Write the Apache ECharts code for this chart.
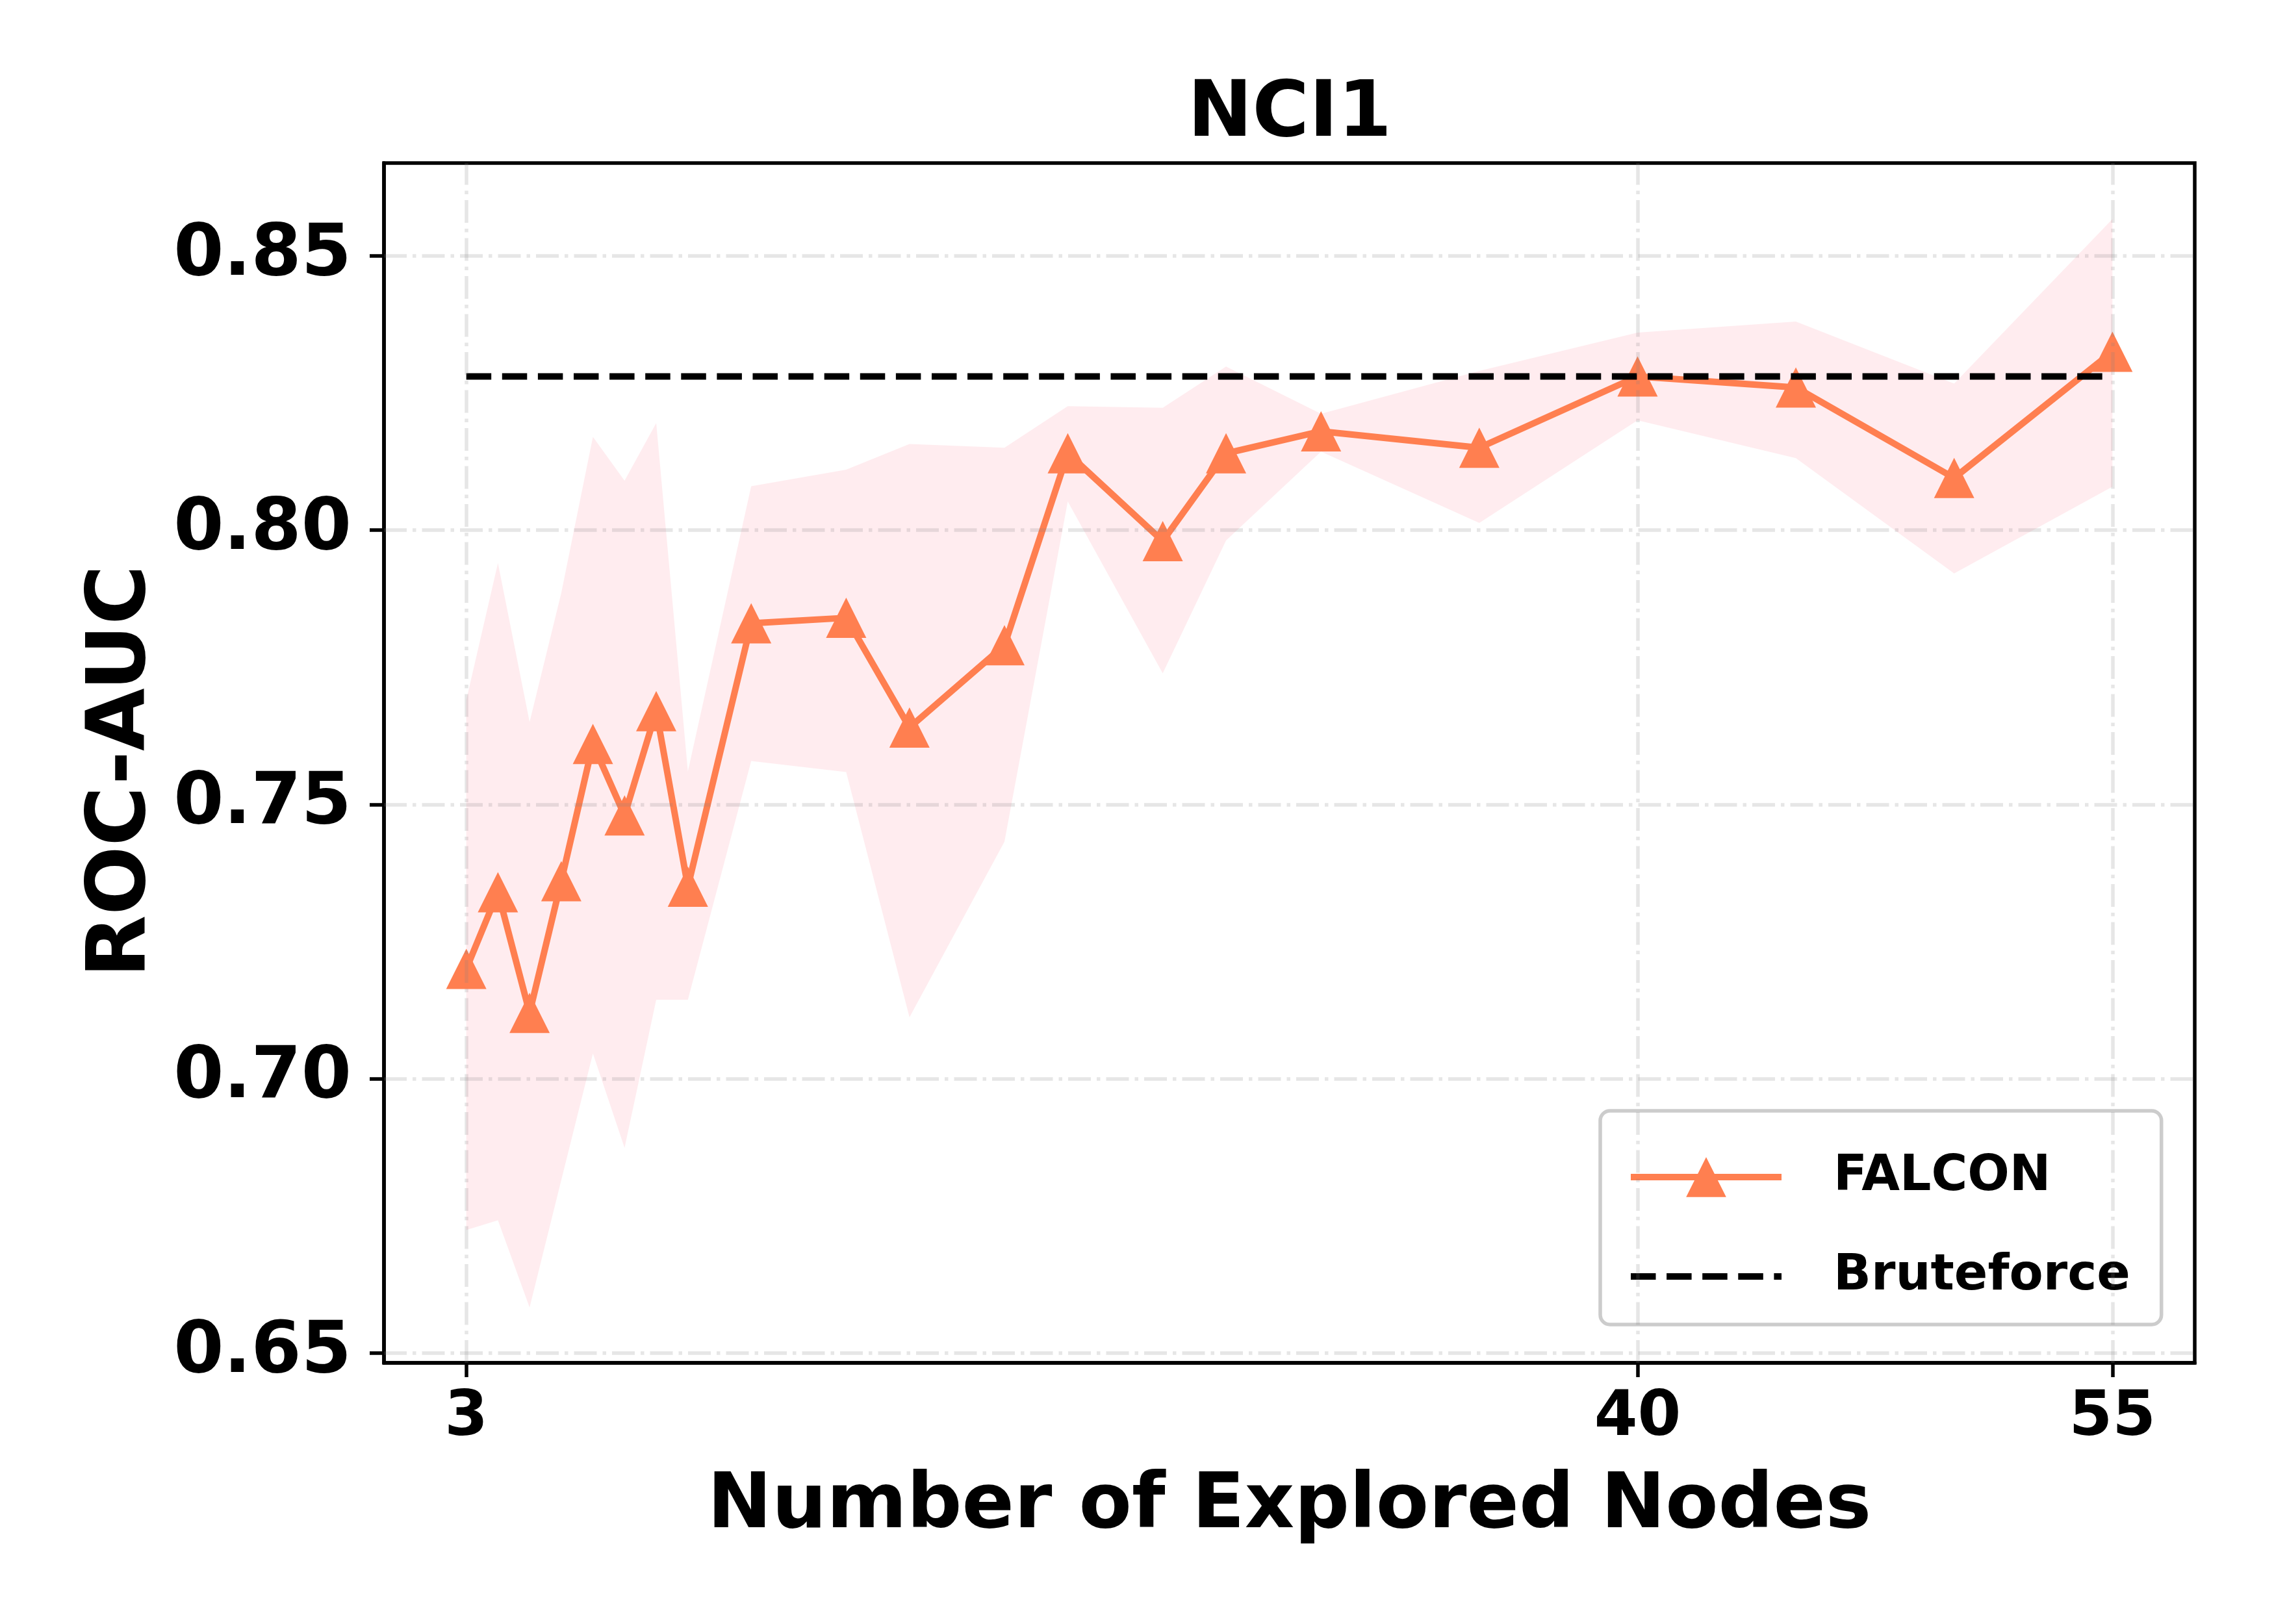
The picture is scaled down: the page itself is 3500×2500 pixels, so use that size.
<!DOCTYPE html>
<html>
<head>
<meta charset="utf-8">
<script src="https://cdn.jsdelivr.net/npm/echarts@6/dist/echarts.min.js"></script>
<style>
  html, body { margin: 0; padding: 0; background: #fff; }
  #main { width: 3500px; height: 2500px; }
</style>
</head>
<body>
<div id="main"></div>
<script>
// data
var nodes = [3, 4, 5, 6, 7, 8, 9, 10, 12, 15, 17, 20, 22, 25, 27, 30, 35, 40, 45, 50, 55];
var falconMean = [0.720, 0.734, 0.712, 0.736, 0.761, 0.748, 0.767, 0.735, 0.783, 0.784, 0.764,
                  0.779, 0.814, 0.798, 0.814, 0.818, 0.815, 0.828, 0.826, 0.8095, 0.8325];
var falconUpper = [0.769, 0.794, 0.765, 0.7885, 0.817, 0.809, 0.8195, 0.756, 0.808, 0.811, 0.8157,
                   0.815, 0.8226, 0.8223, 0.8298, 0.8212, 0.829, 0.836, 0.838, 0.8267, 0.8567];
var falconLower = [0.6724, 0.6742, 0.6583, 0.6815, 0.7046, 0.6874, 0.7144, 0.7144, 0.7579, 0.7559, 0.7112,
                   0.7432, 0.8052, 0.7739, 0.7981, 0.8143, 0.8013, 0.820, 0.8131, 0.7921, 0.8079];
var bruteforce = 0.828;
var xTicks = [3, 40, 55];
var yTicks = [0.65, 0.70, 0.75, 0.80, 0.85];

var FONT = 'DejaVu Sans';
var CORAL = '#FF7F50';

var chart = echarts.init(document.getElementById('main'));

var option = {
    backgroundColor: '#ffffff',
    animation: false,
    title: {
        text: 'NCI1',
        left: 1980,
        textAlign: 'center',
        top: 114,
        textStyle: { fontFamily: FONT, fontWeight: 'bold', fontSize: 119, color: '#000' }
    },
    grid: {
        left: 591, right: 122, top: 251, bottom: 402,
        show: true,
        borderColor: '#000',
        borderWidth: 5.5,
        backgroundColor: 'transparent'
    },
    legend: {
        left: 2463,
        top: 1710,
        orient: 'vertical',
        padding: [64, 48, 36, 42],
        itemWidth: 232,
        itemHeight: 77,
        itemGap: 77,
        backgroundColor: 'rgba(255,255,255,0.8)',
        borderColor: '#cccccc',
        borderWidth: 5.5,
        borderRadius: 15,
        lineStyle: { width: 10 },
        textStyle: { fontFamily: FONT, fontWeight: 'bold', fontSize: 76, color: '#000', padding: [0, 0, 0, 75] },
        data: [
            { name: 'FALCON' },
            { name: 'Bruteforce', itemStyle: { opacity: 0 } }
        ]
    },
    xAxis: {
        type: 'value',
        min: 0.4,
        max: 57.6,
        name: 'Number of Explored Nodes',
        nameLocation: 'middle',
        nameGap: 163,
        nameTextStyle: { fontFamily: FONT, fontWeight: 'bold', fontSize: 118.5, color: '#000' },
        axisLine: { show: true, onZero: false, lineStyle: { color: '#000', width: 5.5 } },
        axisTick: { show: true, inside: false, length: 22, customValues: xTicks, lineStyle: { color: '#000', width: 5.5 } },
        axisLabel: { customValues: xTicks, margin: 38, fontFamily: FONT, fontWeight: 'bold', fontSize: 96, color: '#000' },
        splitLine: { show: false }
    },
    yAxis: {
        type: 'value',
        min: 0.6482,
        max: 0.8669,
        name: 'ROC-AUC',
        nameLocation: 'middle',
        nameRotate: 90,
        nameGap: 339,
        nameTextStyle: { fontFamily: FONT, fontWeight: 'bold', fontSize: 125, color: '#000', padding: [0, 26, 0, 0] },
        axisLine: { show: true, onZero: false, lineStyle: { color: '#000', width: 5.5 } },
        axisTick: { show: true, inside: false, length: 22, customValues: yTicks, lineStyle: { color: '#000', width: 5.5 } },
        axisLabel: {
            customValues: yTicks, margin: 50,
            fontFamily: FONT, fontWeight: 'bold', fontSize: 111, color: '#000',
            formatter: function (v) { return v.toFixed(2); }
        },
        splitLine: { show: false }
    },
    series: [
        {
            // std band
            type: 'custom',
            name: 'band',
            z: 1,
            silent: true,
            data: nodes.map(function (x, i) { return [x, falconLower[i], falconUpper[i]]; }),
            encode: { x: 0, y: [1, 2] },
            renderItem: function (params, api) {
                if (params.dataIndex !== 0) return null;
                var pts = [];
                for (var i = 0; i < nodes.length; i++) pts.push(api.coord([nodes[i], falconUpper[i]]));
                for (var j = nodes.length - 1; j >= 0; j--) pts.push(api.coord([nodes[j], falconLower[j]]));
                return {
                    type: 'polygon',
                    shape: { points: pts },
                    style: { fill: 'rgba(255,192,203,0.3)', stroke: null }
                };
            }
        },
        {
            // grid lines, dash-dot
            type: 'line',
            name: 'grid',
            z: 2,
            silent: true,
            data: [[nodes[0], bruteforce]],
            showSymbol: false,
            symbol: 'none',
            lineStyle: { width: 0, opacity: 0 },
            markLine: {
                silent: true,
                symbol: ['none', 'none'],
                label: { show: false },
                lineStyle: { color: 'rgba(128,128,128,0.2)', width: 5.5, type: [35, 9, 5.5, 9] },
                data: xTicks.map(function (v) { return { xAxis: v }; })
                    .concat(yTicks.map(function (v) { return { yAxis: v }; }))
            }
        },
        {
            type: 'line',
            name: 'FALCON',
            z: 3,
            data: nodes.map(function (x, i) { return [x, falconMean[i]]; }),
            symbol: 'triangle',
            symbolSize: 62,
            itemStyle: { color: CORAL },
            lineStyle: { color: CORAL, width: 10 }
        },
        {
            type: 'line',
            name: 'Bruteforce',
            z: 4,
            data: [[nodes[0], bruteforce], [nodes[nodes.length - 1], bruteforce]],
            symbol: 'none',
            itemStyle: { color: '#000' },
            lineStyle: { color: '#000', width: 10, type: [38.5, 16.6] }
        }
    ]
};

chart.setOption(option);
</script>
</body>
</html>
